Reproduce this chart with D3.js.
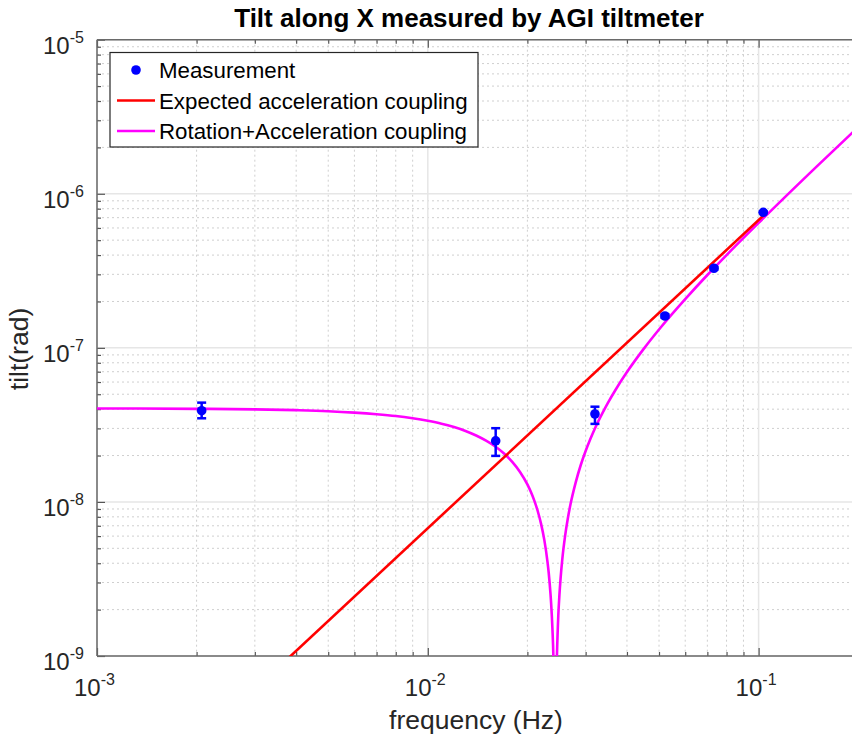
<!DOCTYPE html>
<html><head><meta charset="utf-8">
<script src="https://cdn.jsdelivr.net/npm/d3@7"></script>
<style>body{margin:0;background:#fff}svg{display:block}</style>
</head><body>
<script>
// ---- data ----
const measFreq = [0.002072, 0.01604, 0.03201, 0.0521, 0.0733, 0.1033];
const measTilt = [3.91e-8, 2.49e-8, 3.72e-8, 1.61e-7, 3.285e-7, 7.58e-7];
const measLow  = [3.49e-8, 1.99e-8, 3.21e-8, 1.57e-7, 3.22e-7, 7.48e-7];
const measHigh = [4.41e-8, 3.01e-8, 4.15e-8, 1.65e-7, 3.35e-7, 7.68e-7];

const accelFreq = [0.001, 0.105];
const accelTilt = [6.75e-11, 7.44e-7];

const rotFreq = [0.001, 0.002, 0.003, 0.004, 0.005, 0.006, 0.007, 0.008, 0.009, 0.01, 0.011, 0.012, 0.013, 0.014, 0.015, 0.016, 0.017, 0.018, 0.019, 0.020, 0.0205, 0.021, 0.0215, 0.022, 0.0225, 0.023, 0.0232, 0.0235, 0.0236, 0.0238, 0.024, 0.0242, 0.0245, 0.0248, 0.025, 0.0252, 0.0255, 0.026, 0.0265, 0.027, 0.028, 0.029, 0.030, 0.031, 0.032, 0.034, 0.035, 0.037, 0.04, 0.045, 0.05, 0.06, 0.07, 0.08, 0.1, 0.15, 0.2, 0.3];
const rotTilt = [4.043e-8, 4.02e-8, 3.99e-8, 3.94e-8, 3.88e-8, 3.80e-8, 3.71e-8, 3.61e-8, 3.49e-8, 3.36e-8, 3.22e-8, 3.06e-8, 2.89e-8, 2.70e-8, 2.50e-8, 2.29e-8, 2.06e-8, 1.82e-8, 1.566e-8, 1.30e-8, 1.159e-8, 1.016e-8, 8.7e-9, 7.2e-9, 5.67e-9, 4.1e-9, 3.47e-9, 2.5e-9, 2.18e-9, 1.53e-9, 8.7e-10, 2.1e-10, 8e-10, 1.82e-9, 2.5e-9, 3.19e-9, 4.24e-9, 6.0e-9, 7.81e-9, 9.65e-9, 1.34e-8, 1.736e-8, 2.14e-8, 2.56e-8, 3.0e-8, 3.90e-8, 4.38e-8, 5.37e-8, 6.96e-8, 9.88e-8, 1.315e-7, 2.07e-7, 2.97e-7, 4.0e-7, 6.47e-7, 1.507e-6, 2.71e-6, 6.15e-6];

const xMajor = [1e-3, 1e-2, 1e-1];
const xMajorLabels = ["-3", "-2", "-1"];
const yMajor = [1e-9, 1e-8, 1e-7, 1e-6, 1e-5];
const yMajorLabels = ["-9", "-8", "-7", "-6", "-5"];
const legendLabels = ["Measurement", "Expected acceleration coupling", "Rotation+Acceleration coupling"];
const titleText = "Tilt along X measured by AGI tiltmeter";
const xLabel = "frequency (Hz)";
const yLabel = "tilt(rad)";

// ---- layout ----
const W = 852, H = 742;
const L = 97, T = 39.7, B = 656, DEC = 330.8;
const font = "'Liberation Sans', Arial, sans-serif";
const svg = d3.select("body").append("svg").attr("width", W).attr("height", H);

const x = d3.scaleLog().domain([1e-3, 1]).range([L, L + 3 * DEC]);
const y = d3.scaleLog().domain([1e-9, 1e-5]).range([B, T]);
const R = W + 5;

svg.append("defs").append("clipPath").attr("id", "clip")
  .append("rect").attr("x", L).attr("y", T).attr("width", R - L).attr("height", B - T);

const isMajX = v => xMajor.concat([1]).some(m => Math.abs(m - v) / m < 1e-6);
const xMinor = x.ticks().filter(v => !isMajX(v));
const yMinor = y.ticks().filter(v => !yMajor.some(m => Math.abs(m - v) / m < 1e-6));

// grid
const g = svg.append("g");
g.selectAll(".xmin").data(xMinor).join("line")
  .attr("x1", d => x(d)).attr("x2", d => x(d)).attr("y1", T).attr("y2", B)
  .attr("stroke", "#cfcfcf").attr("stroke-width", 1).attr("stroke-dasharray", "2,3");
g.selectAll(".ymin").data(yMinor).join("line")
  .attr("x1", L).attr("x2", R).attr("y1", d => y(d)).attr("y2", d => y(d))
  .attr("stroke", "#cfcfcf").attr("stroke-width", 1).attr("stroke-dasharray", "2,3");
g.selectAll(".xmaj").data(xMajor).join("line")
  .attr("x1", d => x(d)).attr("x2", d => x(d)).attr("y1", T).attr("y2", B)
  .attr("stroke", "#e6e6e6").attr("stroke-width", 1.5);
g.selectAll(".ymaj").data(yMajor).join("line")
  .attr("x1", L).attr("x2", R).attr("y1", d => y(d)).attr("y2", d => y(d))
  .attr("stroke", "#e6e6e6").attr("stroke-width", 1.5);

// axes (ticks inward)
function styleAxis(sel) {
  sel.select(".domain").remove();
  sel.selectAll("text").remove();
  sel.selectAll("line").attr("stroke", "#555").attr("stroke-width", 1.2);
}
svg.append("g").attr("transform", `translate(0,${B})`).call(d3.axisBottom(x).tickValues(xMajor).tickSize(-8)).call(styleAxis);
svg.append("g").attr("transform", `translate(0,${B})`).call(d3.axisBottom(x).tickValues(xMinor).tickSize(-4)).call(styleAxis);
svg.append("g").attr("transform", `translate(0,${T})`).call(d3.axisTop(x).tickValues(xMajor).tickSize(-8)).call(styleAxis);
svg.append("g").attr("transform", `translate(0,${T})`).call(d3.axisTop(x).tickValues(xMinor).tickSize(-4)).call(styleAxis);
svg.append("g").attr("transform", `translate(${L},0)`).call(d3.axisLeft(y).tickValues(yMajor).tickSize(-8)).call(styleAxis);
svg.append("g").attr("transform", `translate(${L},0)`).call(d3.axisLeft(y).tickValues(yMinor).tickSize(-4)).call(styleAxis);

// axis lines
svg.append("line").attr("x1", L).attr("x2", R).attr("y1", B).attr("y2", B).attr("stroke", "#6a6a6a").attr("stroke-width", 1.5);
svg.append("line").attr("x1", L).attr("x2", R).attr("y1", T).attr("y2", T).attr("stroke", "#6a6a6a").attr("stroke-width", 1.5);
svg.append("line").attr("x1", L).attr("x2", L).attr("y1", T).attr("y2", B).attr("stroke", "#6a6a6a").attr("stroke-width", 1.5);

// tick labels
const tc = "#262626";
svg.selectAll(".xl").data(xMajor).join("text")
  .attr("x", d => x(d) - 23).attr("y", B + 40)
  .attr("font-family", font).attr("font-size", 24).attr("fill", tc)
  .each(function(d, i) {
    const t = d3.select(this);
    t.append("tspan").text("10");
    t.append("tspan").attr("dy", -11).attr("font-size", 16).text(xMajorLabels[i]);
  });
svg.selectAll(".yl").data(yMajor).join("text")
  .attr("x", L - 54).attr("y", d => y(d) + 14)
  .attr("font-family", font).attr("font-size", 24).attr("fill", tc)
  .each(function(d, i) {
    const t = d3.select(this);
    t.append("tspan").text("10");
    t.append("tspan").attr("dy", -11).attr("font-size", 16).text(yMajorLabels[i]);
  });

// curves
const plot = svg.append("g").attr("clip-path", "url(#clip)");
const line = d3.line().x(d => x(d[0])).y(d => y(d[1])).curve(d3.curveMonotoneX);
plot.append("path").datum(rotFreq.map((f, i) => [f, rotTilt[i]]))
  .attr("d", line).attr("fill", "none").attr("stroke", "#ff00ff").attr("stroke-width", 2.6);
plot.append("path").datum(accelFreq.map((f, i) => [f, accelTilt[i]]))
  .attr("d", line).attr("fill", "none").attr("stroke", "#ff0000").attr("stroke-width", 2.6);

// measurements
const meas = measFreq.map((f, i) => ({ f, v: measTilt[i], lo: measLow[i], hi: measHigh[i] }));
const mg = plot.append("g").attr("fill", "#0000ff").attr("stroke", "#0000ff");
mg.selectAll(".eb").data(meas).join("line")
  .attr("x1", d => x(d.f)).attr("x2", d => x(d.f)).attr("y1", d => y(d.lo)).attr("y2", d => y(d.hi)).attr("stroke-width", 2.5);
mg.selectAll(".c1").data(meas).join("line")
  .attr("x1", d => x(d.f) - 4.5).attr("x2", d => x(d.f) + 4.5).attr("y1", d => y(d.lo)).attr("y2", d => y(d.lo)).attr("stroke-width", 2.5);
mg.selectAll(".c2").data(meas).join("line")
  .attr("x1", d => x(d.f) - 4.5).attr("x2", d => x(d.f) + 4.5).attr("y1", d => y(d.hi)).attr("y2", d => y(d.hi)).attr("stroke-width", 2.5);
mg.selectAll("circle").data(meas).join("circle")
  .attr("cx", d => x(d.f)).attr("cy", d => y(d.v)).attr("r", 4.8).attr("stroke", "none");

// legend
const lg = svg.append("g");
lg.append("rect").attr("x", 110).attr("y", 52.5).attr("width", 368).attr("height", 94.5)
  .attr("fill", "#fff").attr("stroke", "#262626").attr("stroke-width", 1.2);
const ly = [70, 100.5, 131];
lg.append("circle").attr("cx", 136).attr("cy", ly[0]).attr("r", 4.8).attr("fill", "#0000ff");
lg.append("line").attr("x1", 117).attr("x2", 155).attr("y1", ly[1]).attr("y2", ly[1]).attr("stroke", "#ff0000").attr("stroke-width", 2.6);
lg.append("line").attr("x1", 117).attr("x2", 155).attr("y1", ly[2]).attr("y2", ly[2]).attr("stroke", "#ff00ff").attr("stroke-width", 2.6);
lg.selectAll(".lt").data(legendLabels).join("text")
  .attr("x", 159).attr("y", (d, i) => ly[i] + 8)
  .attr("font-family", font).attr("font-size", 22.3).attr("fill", "#000").text(d => d);

// titles
svg.append("text").attr("x", 469).attr("y", 27).attr("text-anchor", "middle")
  .attr("font-family", font).attr("font-weight", "bold").attr("font-size", 26).attr("fill", "#000").text(titleText);
svg.append("text").attr("x", 476).attr("y", 729).attr("text-anchor", "middle")
  .attr("font-family", font).attr("font-size", 26.5).attr("fill", tc).text(xLabel);
svg.append("text").attr("transform", "translate(28,349) rotate(-90)").attr("text-anchor", "middle")
  .attr("font-family", font).attr("font-size", 26.5).attr("fill", tc).text(yLabel);
</script>
</body></html>
